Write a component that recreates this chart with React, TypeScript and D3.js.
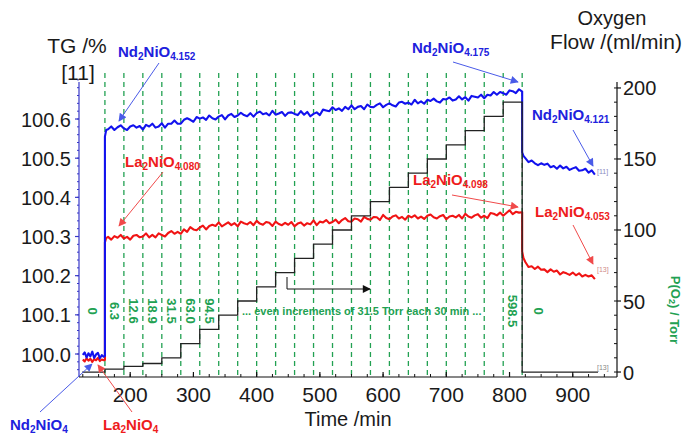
import React from "react";
import * as d3 from "d3";

const WIDTH = 689;
const HEIGHT = 436;

// ---------------- data ----------------
// pre-segment (before oxygen switch)
const preTimes = [125, 128, 131, 134, 137, 140, 143, 146, 149, 152, 155, 158];
const ndPre = [99.998, 100.004, 99.991, 100.002, 99.994, 100.006, 99.990, 99.999, 100.003, 99.989, 99.997, 99.993];
const laPre = [99.986, 99.981, 99.989, 99.983, 99.988, 99.980, 99.987, 99.984, 99.990, 99.982, 99.986, 99.984];

// jump at 160 min
const jumpTimes = [160, 160, 162];
const ndJump = [99.995, 100.555, 100.572];
const laJump = [99.985, 100.285, 100.296];

// main segment, sampled every 5 min from 165 min
const mainStart = 165;
const mainStep = 5;
const ndMain = [
  100.574, 100.581, 100.572, 100.579, 100.584, 100.576, 100.572, 100.581, 100.584, 100.578,
  100.582, 100.573, 100.585, 100.581, 100.588, 100.578, 100.581, 100.589, 100.578, 100.588,
  100.588, 100.596, 100.588, 100.588, 100.598, 100.602, 100.598, 100.593, 100.605, 100.601,
  100.604, 100.598, 100.609, 100.602, 100.599, 100.606, 100.610, 100.599, 100.609, 100.613,
  100.605, 100.609, 100.616, 100.610, 100.607, 100.615, 100.606, 100.615, 100.619, 100.612,
  100.615, 100.609, 100.621, 100.611, 100.614, 100.618, 100.608, 100.616, 100.617, 100.613,
  100.610, 100.620, 100.611, 100.618, 100.607, 100.613, 100.617, 100.610, 100.624, 100.622,
  100.620, 100.630, 100.623, 100.627, 100.621, 100.631, 100.625, 100.635, 100.625, 100.631,
  100.633, 100.625, 100.637, 100.631, 100.630, 100.636, 100.640, 100.630, 100.636, 100.640,
  100.635, 100.632, 100.642, 100.644, 100.639, 100.642, 100.637, 100.649, 100.640, 100.645,
  100.639, 100.649, 100.646, 100.652, 100.645, 100.642, 100.651, 100.650, 100.655, 100.647,
  100.650, 100.658, 100.650, 100.656, 100.647, 100.659, 100.657, 100.655, 100.662, 100.653,
  100.662, 100.660, 100.669, 100.662, 100.669, 100.666, 100.662, 100.673, 100.671, 100.666,
  100.676,
];
const laMain = [
  100.299, 100.292, 100.301, 100.297, 100.304, 100.295, 100.299, 100.292, 100.302, 100.304,
  100.298, 100.300, 100.308, 100.298, 100.304, 100.298, 100.308, 100.304, 100.300, 100.309,
  100.314, 100.307, 100.312, 100.307, 100.318, 100.312, 100.324, 100.318, 100.316, 100.323,
  100.328, 100.318, 100.327, 100.330, 100.327, 100.336, 100.326, 100.331, 100.336, 100.329,
  100.334, 100.326, 100.338, 100.334, 100.331, 100.337, 100.329, 100.340, 100.333, 100.330,
  100.337, 100.335, 100.327, 100.338, 100.332, 100.329, 100.335, 100.330, 100.337, 100.326,
  100.333, 100.336, 100.328, 100.334, 100.331, 100.341, 100.329, 100.338, 100.336, 100.342,
  100.334, 100.337, 100.343, 100.334, 100.342, 100.347, 100.339, 100.338, 100.346, 100.344,
  100.338, 100.350, 100.345, 100.343, 100.350, 100.349, 100.342, 100.355, 100.347, 100.344,
  100.351, 100.354, 100.346, 100.350, 100.343, 100.353, 100.349, 100.354, 100.346, 100.351,
  100.345, 100.353, 100.356, 100.349, 100.346, 100.352, 100.355, 100.344, 100.351, 100.353,
  100.349, 100.355, 100.346, 100.358, 100.351, 100.348, 100.354, 100.357, 100.348, 100.353,
  100.347, 100.360, 100.358, 100.354, 100.361, 100.353, 100.360, 100.367, 100.357, 100.363,
  100.361,
];

// drop at 820 min
const dropTimes = [820, 820, 822];
const ndDrop = [100.670, 100.515, 100.506];
const laDrop = [100.362, 100.262, 100.245];

// post segment, every 5 min from 825 min
const postStart = 825;
const postStep = 5;
const ndPost = [
  100.500, 100.490, 100.494, 100.487, 100.482, 100.487, 100.483, 100.486, 100.477, 100.480,
  100.473, 100.481, 100.474, 100.478, 100.470, 100.474, 100.477, 100.468, 100.469, 100.473,
  100.463, 100.469, 100.458,
];
const laPost = [
  100.235, 100.222, 100.224, 100.217, 100.223, 100.215, 100.216, 100.209, 100.216, 100.210,
  100.213, 100.203, 100.209, 100.206, 100.202, 100.208, 100.201, 100.206, 100.198, 100.202,
  100.198, 100.201, 100.191,
];

// oxygen flow steps (ml/min), each value holds from its time until the next
const flowTimes = [124, 160, 190, 220, 250, 280, 310, 340, 370, 400, 430, 460, 490, 520, 550, 580, 610, 640, 670, 700, 730, 760, 790, 820, 940];
const flowValues = [0, 2, 4, 6, 10, 20, 30, 40, 50, 60, 70, 80, 90, 100, 110, 120, 130, 140, 150, 160, 170, 180, 190, 0, 0];

// axis ticks
const xTicks = [200, 300, 400, 500, 600, 700, 800, 900];
const tgTicks = [100.0, 100.1, 100.2, 100.3, 100.4, 100.5, 100.6];
const flowTicks = [0, 50, 100, 150, 200];

// pO2 labels (Torr)
const pO2Labels = ["0", "6.3", "12.6", "18.9", "31.5", "63.0", "94.5", "598.5", "0"];
const pO2LabelTimes = [140, 175, 205, 235, 265, 295, 325, 805, 846];

// ---------------- styling ----------------
const FONT = "'Liberation Sans', Arial, sans-serif";
const BLUE = "#1212ee";
const RED = "#f01414";
const GREEN = "#22a152";
const BLUE_TXT = "#2020dd";
const RED_TXT = "#ee1c1c";
const BLUE_ARROW = "#4a5be8";
const RED_ARROW = "#f04a4a";

type Pt = [number, number];

function build(pre: number[], jump: number[], main: number[], drop: number[], post: number[]): Pt[] {
  return [
    ...preTimes.map((t, i) => [t, pre[i]] as Pt),
    ...jumpTimes.map((t, i) => [t, jump[i]] as Pt),
    ...main.map((v, i) => [mainStart + i * mainStep, v] as Pt),
    ...dropTimes.map((t, i) => [t, drop[i]] as Pt),
    ...post.map((v, i) => [postStart + i * postStep, v] as Pt),
  ];
}

const annotations = [
  { a: "Nd", s1: "2", b: "NiO", s2: "4.152", color: BLUE_TXT, arrow: BLUE_ARROW, tx: 118, ty: 57, x1: 159, y1: 63, x2: 119, y2: 121 },
  { a: "Nd", s1: "2", b: "NiO", s2: "4.175", color: BLUE_TXT, arrow: BLUE_ARROW, tx: 412, ty: 53, x1: 453, y1: 62, x2: 518, y2: 82 },
  { a: "Nd", s1: "2", b: "NiO", s2: "4.121", color: BLUE_TXT, arrow: BLUE_ARROW, tx: 532, ty: 120, x1: 573, y1: 130, x2: 593, y2: 166 },
  { a: "La", s1: "2", b: "NiO", s2: "4.080", color: RED_TXT, arrow: RED_ARROW, tx: 125, ty: 167, x1: 163, y1: 172, x2: 119, y2: 226 },
  { a: "La", s1: "2", b: "NiO", s2: "4.098", color: RED_TXT, arrow: RED_ARROW, tx: 413, ty: 185, x1: 452, y1: 195, x2: 518, y2: 207 },
  { a: "La", s1: "2", b: "NiO", s2: "4.053", color: RED_TXT, arrow: RED_ARROW, tx: 535, ty: 217, x1: 573, y1: 225, x2: 593, y2: 264 },
  { a: "Nd", s1: "2", b: "NiO", s2: "4", color: BLUE_TXT, arrow: BLUE_ARROW, tx: 10, ty: 430, x1: 40, y1: 412, x2: 92, y2: 364 },
  { a: "La", s1: "2", b: "NiO", s2: "4", color: RED_TXT, arrow: RED_ARROW, tx: 103, ty: 430, x1: 132, y1: 412, x2: 98, y2: 365 },
];

export default function App() {
  const L = 79, R = 617, T = 82, B = 377;
  const x = d3.scaleLinear().domain([119, 970]).range([L, R]);
  const yTG = d3.scaleLinear().domain([99.9413, 100.6945]).range([B, T]);
  const yFlow = d3.scaleLinear().domain([-3.5, 204.2]).range([B, T]);

  const tgLine = d3.line<Pt>().x((d) => x(d[0])).y((d) => yTG(d[1]));
  const flowLine = d3
    .line<number>()
    .x((d, i) => x(flowTimes[i]))
    .y((d) => yFlow(d))
    .curve(d3.curveStepAfter);

  const ndPts = build(ndPre, ndJump, ndMain, ndDrop, ndPost);
  const laPts = build(laPre, laJump, laMain, laDrop, laPost);

  const dashTimes = flowTimes.slice(1, flowTimes.length - 1);
  const tgMinor = d3.range(0, 38).map((i) => 99.96 + i * 0.02);
  const flowMinor = d3.range(0, 21).map((i) => i * 10);
  const xMinor = d3.range(125, 970, 25);

  return (
    <svg
      width={WIDTH}
      height={HEIGHT}
      viewBox={`0 0 ${WIDTH} ${HEIGHT}`}
      style={{ position: "absolute", left: 0, top: 0, background: "#fff" }}
      fontFamily={FONT}
    >
      <defs>
        {[["blueHead", BLUE_ARROW], ["redHead", RED_ARROW], ["blackHead", "#111"]].map(([id, c]) => (
          <marker
            key={id}
            id={id}
            viewBox="0 0 10 10"
            refX="9"
            refY="5"
            markerWidth="9"
            markerHeight="8"
            markerUnits="userSpaceOnUse"
            orient="auto"
          >
            <path d="M0,0 L10,5 L0,10 z" fill={c} />
          </marker>
        ))}
      </defs>

      {/* green dashed step boundaries */}
      {dashTimes.map((t) => (
        <line key={t} x1={x(t)} x2={x(t)} y1={73} y2={B} stroke={GREEN} strokeWidth={1.3} strokeDasharray="5,4" />
      ))}

      {/* TG curves */}
      <path d={tgLine(laPts) || ""} fill="none" stroke={RED} strokeWidth={2.1} strokeLinejoin="round" />
      <path d={tgLine(ndPts) || ""} fill="none" stroke={BLUE} strokeWidth={2.1} strokeLinejoin="round" />

      {/* oxygen flow */}
      <path d={flowLine(flowValues) || ""} fill="none" stroke="#222" strokeWidth={1.3} />

      {/* pO2 labels */}
      {pO2Labels.map((lab, i) => (
        <text
          key={i}
          transform={`translate(${x(pO2LabelTimes[i])},311) rotate(90)`}
          textAnchor="middle"
          dominantBaseline="central"
          fontSize={13}
          fontWeight="bold"
          fill={GREEN}
        >
          {lab}
        </text>
      ))}
      <text x={242} y={315} fontSize={11} fontWeight="bold" fill={GREEN}>
        ... even increments of 31.5 Torr each 30 min ...
      </text>
      <path d="M287,277 V289 H370" fill="none" stroke="#111" strokeWidth={1} markerEnd="url(#blackHead)" />

      {/* small reference tags */}
      <text x={597} y={174} fontSize={7} fill="#8a8ac0">[11]</text>
      <text x={597} y={272} fontSize={7} fill="#d08a8a">[13]</text>
      <text x={597} y={370} fontSize={7} fill="#888">[13]</text>

      {/* left axis */}
      <line x1={L} x2={L} y1={T} y2={B} stroke="#3838c8" strokeWidth={1.2} />
      {tgMinor.map((v, i) => (
        <line key={i} x1={L - 2} x2={L} y1={yTG(v)} y2={yTG(v)} stroke="#3838c8" strokeWidth={1} />
      ))}
      {tgTicks.map((v) => (
        <g key={v}>
          <line x1={L - 4} x2={L} y1={yTG(v)} y2={yTG(v)} stroke="#3838c8" strokeWidth={1.2} />
          <text x={71} y={yTG(v) + 7.5} textAnchor="end" fontSize={20} fill="#1a1a1a">
            {d3.format(".1f")(v)}
          </text>
        </g>
      ))}

      {/* right axis */}
      <line x1={R} x2={R} y1={T} y2={B} stroke="#111" strokeWidth={1.2} />
      {flowMinor.map((v) => (
        <line key={v} x1={R - 3} x2={R} y1={yFlow(v)} y2={yFlow(v)} stroke="#111" strokeWidth={1} />
      ))}
      {flowTicks.map((v) => (
        <g key={v}>
          <line x1={R} x2={R + 4} y1={yFlow(v)} y2={yFlow(v)} stroke="#111" strokeWidth={1.2} />
          <text x={623} y={yFlow(v) + 7.5} fontSize={20} fill="#1a1a1a">
            {v}
          </text>
        </g>
      ))}

      {/* bottom axis */}
      <line x1={L} x2={R} y1={B} y2={B} stroke="#111" strokeWidth={1.2} />
      {xMinor.map((t) => (
        <line key={t} x1={x(t)} x2={x(t)} y1={B - 3} y2={B} stroke="#111" strokeWidth={1} />
      ))}
      {xTicks.map((t) => (
        <g key={t}>
          <line x1={x(t)} x2={x(t)} y1={B - 5} y2={B} stroke="#111" strokeWidth={1.2} />
          <text x={x(t)} y={402} textAnchor="middle" fontSize={21} fill="#1a1a1a">
            {t}
          </text>
        </g>
      ))}

      {/* axis titles */}
      <text x={348} y={426} textAnchor="middle" fontSize={20} fill="#1a1a1a">Time /min</text>
      <text x={77} y={53} textAnchor="middle" fontSize={21} fill="#1a1a1a">TG /%</text>
      <text x={78} y={80} textAnchor="middle" fontSize={21} fill="#1a1a1a">[11]</text>
      <text x={612} y={25} textAnchor="middle" fontSize={20} fill="#1a1a1a">Oxygen</text>
      <text x={616} y={49} textAnchor="middle" fontSize={21} fill="#1a1a1a">Flow /(ml/min)</text>
      <text transform="translate(675,310) rotate(90)" textAnchor="middle" dominantBaseline="central" fontSize={13} fontWeight="bold" fill={GREEN}>
        P(O<tspan fontSize={9} dy={3}>2</tspan>
        <tspan dy={-3}>) / Torr</tspan>
      </text>

      {/* annotations */}
      {annotations.map((an, i) => (
        <g key={i}>
          <line
            x1={an.x1}
            y1={an.y1}
            x2={an.x2}
            y2={an.y2}
            stroke={an.arrow}
            strokeWidth={1}
            markerEnd={an.color === BLUE_TXT ? "url(#blueHead)" : "url(#redHead)"}
          />
          <text x={an.tx} y={an.ty} fontSize={15} fontWeight="bold" fill={an.color}>
            <tspan>{an.a}</tspan>
            <tspan fontSize={10} dy={3}>{an.s1}</tspan>
            <tspan dy={-3}>{an.b}</tspan>
            <tspan fontSize={10} dy={3}>{an.s2}</tspan>
          </text>
        </g>
      ))}
    </svg>
  );
}
